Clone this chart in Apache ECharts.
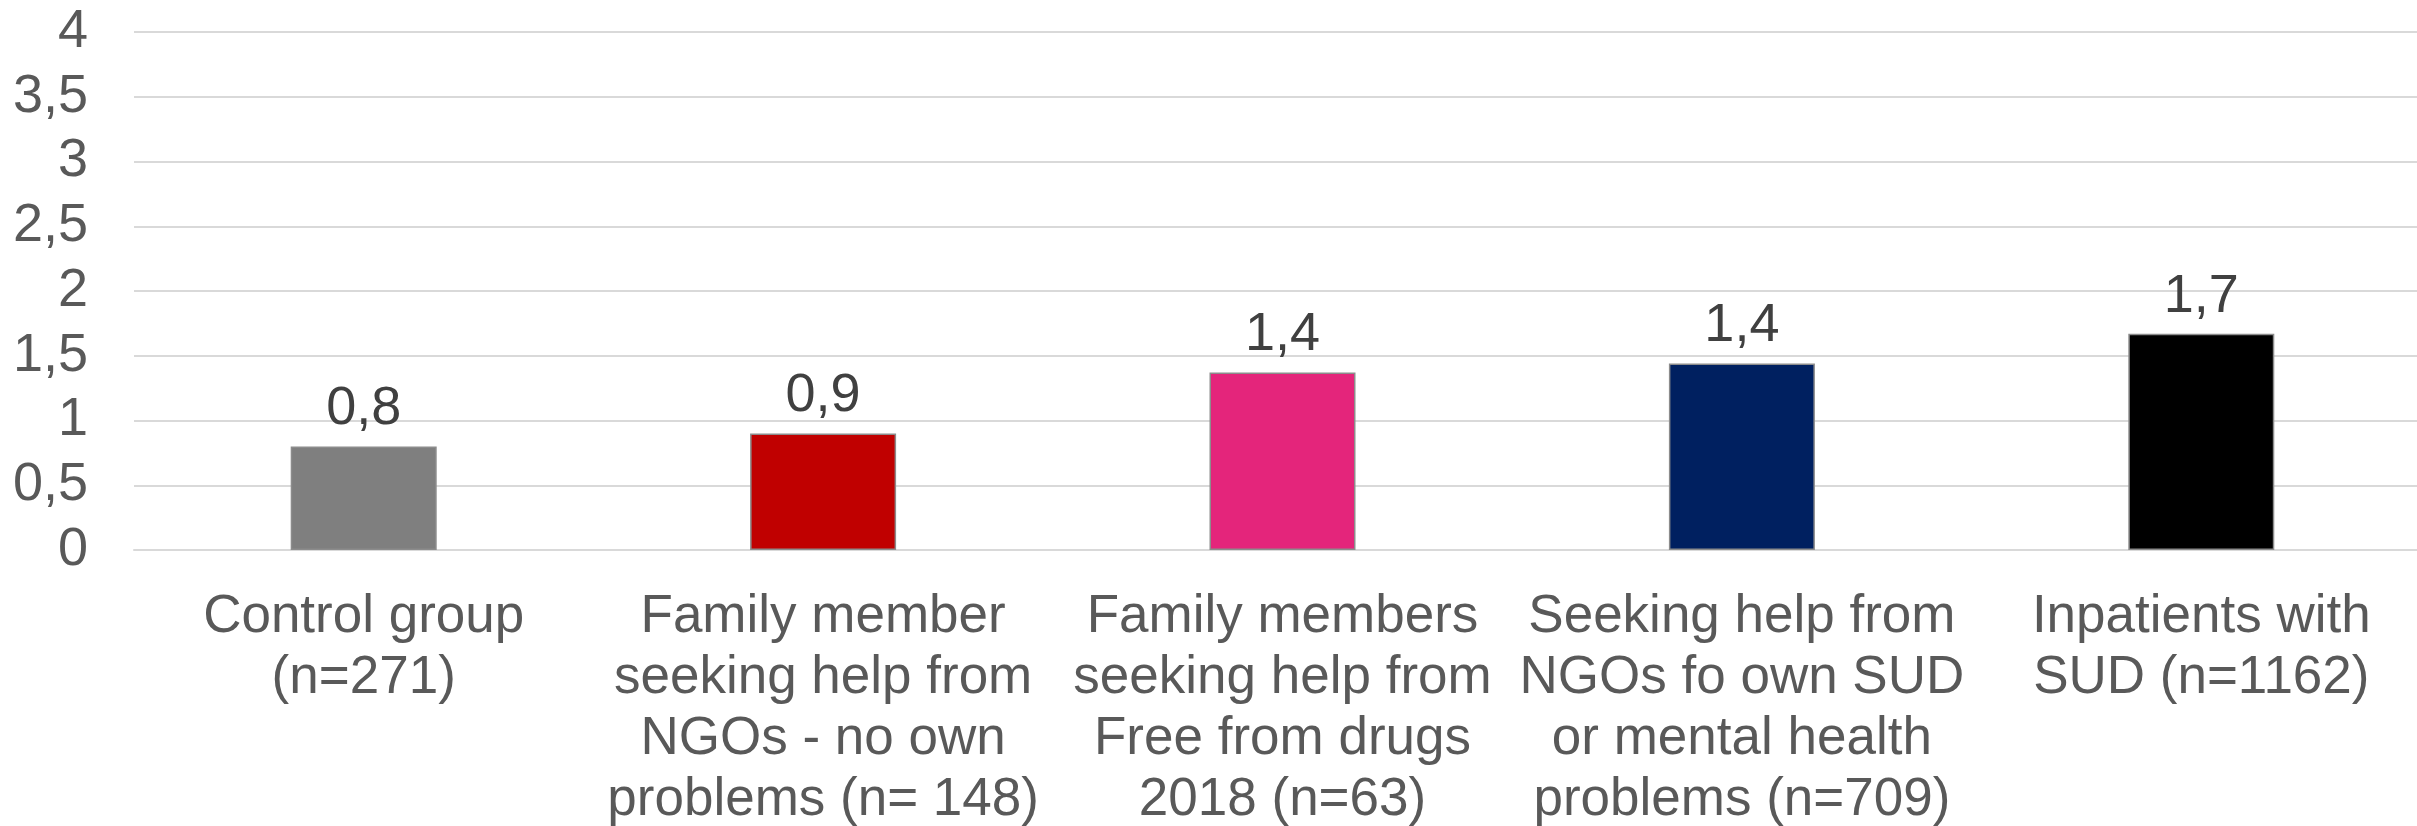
<!DOCTYPE html>
<html>
<head>
<meta charset="utf-8">
<script src="https://cdn.jsdelivr.net/npm/echarts@6/dist/echarts.min.js"></script>
<style>
html,body{margin:0;padding:0;background:#fff;overflow:hidden;}
#chart{width:2417px;height:826px;}
</style>
</head>
<body>
<div id="chart"></div>
<script>
const categories = [
  'Control group\n(n=271)',
  'Family member\nseeking help from\nNGOs - no own\nproblems (n= 148)',
  'Family members\nseeking help from\nFree from drugs\n2018 (n=63)',
  'Seeking help from\nNGOs fo own SUD\nor mental health\nproblems (n=709)',
  'Inpatients with\nSUD (n=1162)'
];
const values = [0.8, 0.9, 1.37, 1.44, 1.67];
const barColors = ['#7f7f7f', '#c00000', '#e4257b', '#002060', '#000000'];
const yTicks = { min: 0, max: 4, interval: 0.5 };

const chart = echarts.init(document.getElementById('chart'), null, { renderer: 'canvas' });
const fontFamily = '"Liberation Sans", Arial, sans-serif';
chart.setOption({
  animation: false,
  backgroundColor: '#ffffff',
  grid: { left: 134, right: -14, top: 32, bottom: 276, containLabel: false, outerBoundsMode: 'none' },
  xAxis: {
    type: 'category',
    data: categories,
    axisLine: { show: true, lineStyle: { color: '#d9d9d9', width: 2 } },
    axisTick: { show: false },
    axisLabel: {
      interval: 0,
      margin: 37,
      color: '#595959',
      fontFamily: fontFamily,
      fontSize: 53,
      lineHeight: 61,
      align: 'center',
      verticalAlign: 'top'
    }
  },
  yAxis: {
    type: 'value',
    min: yTicks.min,
    max: yTicks.max,
    interval: yTicks.interval,
    axisLine: { show: false },
    axisTick: { show: false },
    splitLine: { show: true, lineStyle: { color: '#d9d9d9', width: 2 } },
    axisLabel: {
      margin: 46,
      color: '#595959',
      fontFamily: fontFamily,
      fontSize: 54,
      formatter: v => String(v).replace('.', ',')
    }
  },
  series: [{
    type: 'bar',
    barWidth: 146,
    data: values.map((v, i) => ({
      value: v,
      itemStyle: { color: barColors[i], borderColor: '#8c8c8c', borderWidth: 1.5 }
    })),
    label: {
      show: true,
      position: 'top',
      distance: 10,
      color: '#404040',
      fontFamily: fontFamily,
      fontSize: 54,
      formatter: p => p.value.toFixed(1).replace('.', ',')
    }
  }]
});
</script>
</body>
</html>
